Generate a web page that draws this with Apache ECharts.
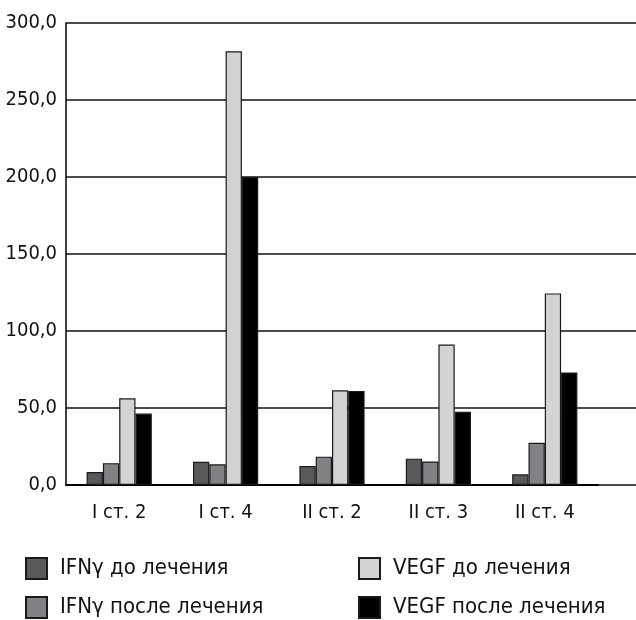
<!DOCTYPE html>
<html>
<head>
<meta charset="utf-8">
<script src="https://cdn.jsdelivr.net/npm/echarts@6/dist/echarts.min.js"></script>
<style>
html,body{margin:0;padding:0;background:#fff;}
#chart{width:636px;height:620px;}
</style>
</head>
<body>
<div id="chart"></div>
<script>
const categories = ['I ст. 2', 'I ст. 4', 'II ст. 2', 'II ст. 3', 'II ст. 4'];
const ifnBefore = [8.4, 15.1, 12.3, 17.1, 6.9];
const ifnAfter = [14.2, 13.4, 18.4, 15.3, 27.4];
const vegfBefore = [56.3, 281.6, 61.5, 91.2, 124.4];
const vegfAfter = [46.4, 200.0, 61.0, 47.5, 73.1];
const seriesNames = ['IFNγ до лечения', 'IFNγ после лечения', 'VEGF до лечения', 'VEGF после лечения'];
const yMin = 0, yMax = 300, yStep = 50;

const FONT = "'Liberation Sans Narrow', 'Arial Narrow', 'DejaVu Sans Condensed', sans-serif";
const colors = ['#58595b', '#818285', '#d2d3d5', '#000000'];

function bar(name, data, color) {
  return {
    name: name, type: 'bar', data: data, barWidth: 16.3, barGap: '0%',
    xAxisIndex: 0, yAxisIndex: 0,
    itemStyle: { color: color, borderColor: '#1a1a1a', borderWidth: 1.2 }
  };
}
function leg(name, left, top) {
  return {
    data: [name], orient: 'horizontal', left: left, top: top,
    itemWidth: 21, itemHeight: 21, icon: 'rect',
    textStyle: { fontFamily: FONT, fontSize: 22, color: '#111', padding: [0, 0, 0, 8] }
  };
}

const chart = echarts.init(document.getElementById('chart'));
chart.setOption({
  animation: false,
  textStyle: { fontFamily: FONT },
  grid: [
    { left: 66, right: 38, top: 23, bottom: 135 },
    { left: 66, right: 0, top: 23, bottom: 135 }
  ],
  legend: [
    leg(seriesNames[0], 20, 552),
    leg(seriesNames[1], 20, 591),
    leg(seriesNames[2], 353, 552),
    leg(seriesNames[3], 353, 591)
  ],
  xAxis: [
    {
      type: 'category', data: categories, gridIndex: 0,
      axisLine: { lineStyle: { color: '#000', width: 2 } },
      axisTick: { show: false },
      axisLabel: { fontFamily: FONT, fontSize: 20, color: '#111', margin: 18 }
    },
    {
      type: 'value', gridIndex: 1, show: false, min: 0, max: 1
    }
  ],
  yAxis: [
    {
      type: 'value', gridIndex: 0, min: yMin, max: yMax, interval: yStep,
      axisLine: { show: true, lineStyle: { color: '#000', width: 1.5 } },
      axisTick: { show: false },
      splitLine: { show: false },
      axisLabel: {
        fontFamily: FONT, fontSize: 20, color: '#111', margin: 9,
        formatter: v => v.toFixed(1).replace('.', ',')
      }
    },
    {
      type: 'value', gridIndex: 1, min: yMin, max: yMax, interval: yStep,
      axisLine: { show: false }, axisTick: { show: false }, axisLabel: { show: false },
      splitLine: { show: true, lineStyle: { color: '#111', width: 1.5 } }
    }
  ],
  series: [
    bar(seriesNames[0], ifnBefore, colors[0]),
    bar(seriesNames[1], ifnAfter, colors[1]),
    bar(seriesNames[2], vegfBefore, colors[2]),
    bar(seriesNames[3], vegfAfter, colors[3])
  ]
});
</script>
</body>
</html>
